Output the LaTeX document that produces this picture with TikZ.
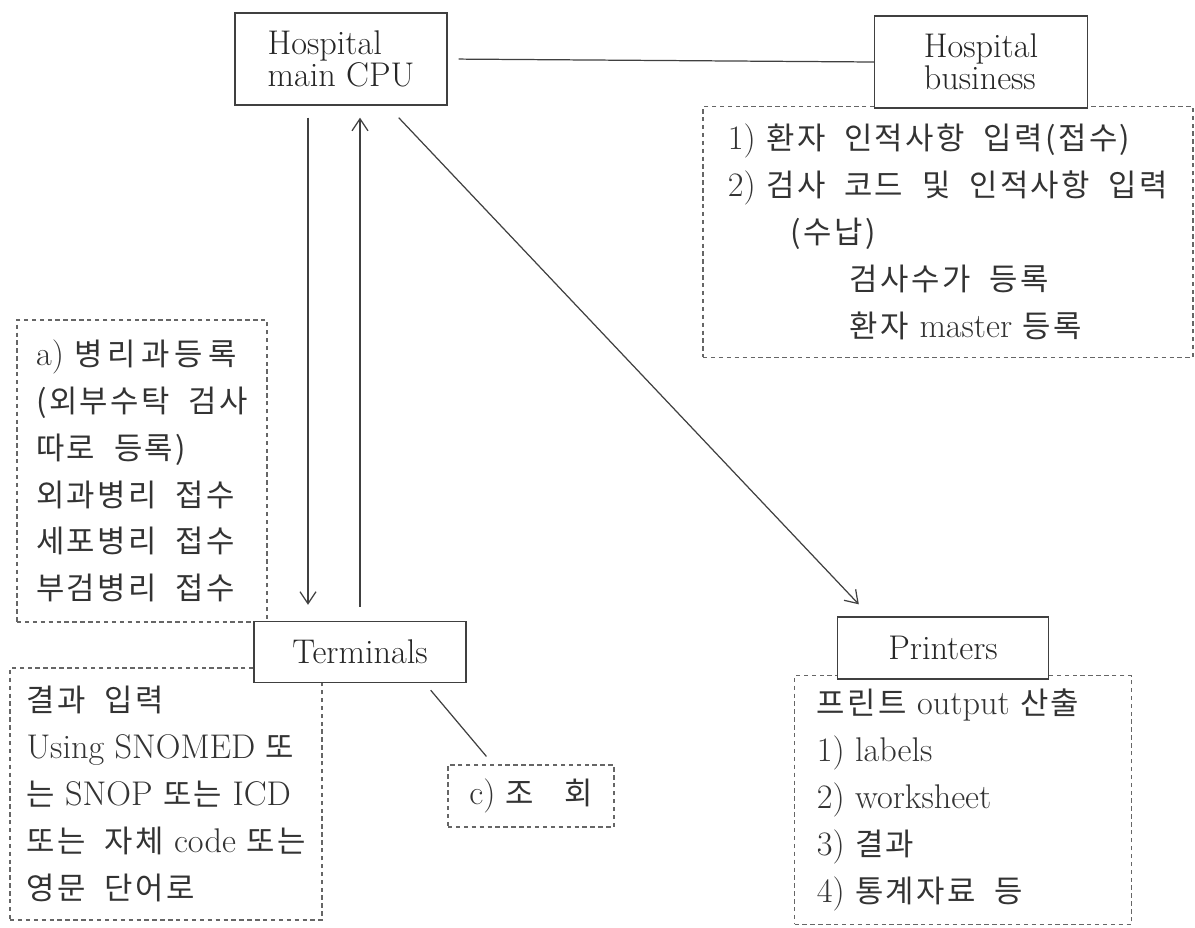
\documentclass[tikz,border=0pt]{standalone}
\usepackage{fontspec}
\newfontfamily\kofont[Scale=0.9, LetterSpace=8, WordSpace=2]{Noto Sans CJK KR}
\newcommand{\ko}[1]{{\kofont #1}}
\usepackage{tikz}
\usetikzlibrary{arrows.meta}
\usetikzlibrary{positioning}

\tikzset{
  unit/.style={draw=black!75, line width=0.8pt, fill=white, text=black!85, align=left,
    font={\fontsize{19.5pt}{17pt}\selectfont}},
  memo/.style={draw=black!60, line width=0.7pt, dash pattern=on 2.5pt off 2pt, text=black!80,
    align=left, inner sep=0pt, font={\fontsize{19.5pt}{26.7pt}\selectfont}},
  link/.style={draw=black!75, line width=0.7pt}
}

\begin{document}
\begin{tikzpicture}[x=0.02cm, y=-0.02cm, >={Straight Barb[length=2.4mm,width=3.2mm]}]
            \useasboundingbox (0,0) rectangle (1195,927);
            % remark boxes
            \node[memo, minimum width=9.8cm, minimum height=5.02cm] (bizmemo) at (948,232) {1) \ko{환자 인적사항 입력(접수)}\\
              2) \ko{검사 코드 및 인적사항 입력}\\
              \hspace*{1.26cm}\ko{(수납)}\\
              \hspace*{2.44cm}\ko{검사수가 등록}\\
              \hspace*{2.44cm}\ko{환자} master \ko{등록}};
            \node[memo, minimum width=5cm, minimum height=6.04cm] (pathmemo) at (142,471) {a) \ko{병\,리\,과\,등\,록}\\
              \ko{(외부수탁 검사}\\
              \ko{따로 등록)}\\
              \ko{외과병리 접수}\\
              \ko{세포병리 접수}\\
              \ko{부검병리 접수}};
            \node[memo, minimum width=6.24cm, minimum height=5.04cm] (termmemo) at (166,794) {\ko{결과 입력}\\
              Using SNOMED \ko{또}\\
              \ko{는} SNOP \ko{또는} ICD\\
              \ko{또는 자체} code \ko{또는}\\
              \ko{영문 단어로}};
            \node[memo, minimum width=3.32cm, minimum height=1.24cm] (query) at (531,796) {c) \ko{조}\hspace{0.6cm}\ko{회}};
            \node[memo, minimum width=6.74cm, minimum height=4.98cm] (prnmemo) at (963,800) {\ko{프린트} output \ko{산출}\hspace*{0.6cm}\\
              1) labels\\
              2) worksheet\\
              3) \ko{결과}\\
              4) \ko{통계자료 등}};

            % units
            \node[unit, minimum width=4.24cm, minimum height=1.84cm] (cpu) at (341,59) {Hospital\\main CPU};
            \node[unit, minimum width=4.26cm, minimum height=1.84cm] (biz) at (981,62) {Hospital\\business};
            \node[unit, minimum width=4.24cm, minimum height=1.22cm] (term) at (360,652) {Terminals};
            \node[unit, minimum width=4.22cm, minimum height=1.24cm] (prn) at (943,648) {Printers};

            \draw[link, shorten <=0.22cm] (cpu.east) -- (biz.west);
            \draw[link, ->, shorten <=0.24cm, shorten >=0.32cm] ([xshift=-0.66cm]cpu.south) -- ([xshift=-0.66cm]cpu.south |- term.north);
            \draw[link, ->, shorten <=0.28cm, shorten >=0.24cm] (term.north) -- (term.north |- cpu.south);
            \draw[link, ->] ([xshift=-0.98cm,yshift=-0.24cm]cpu.south east) -- ([xshift=0.44cm,yshift=0.24cm]prn.north west);
            \draw[link] ([xshift=-0.72cm,yshift=-0.14cm]term.south east) -- ([xshift=0.78cm,yshift=0.16cm]query.north west);
        \end{tikzpicture}
\end{document}
